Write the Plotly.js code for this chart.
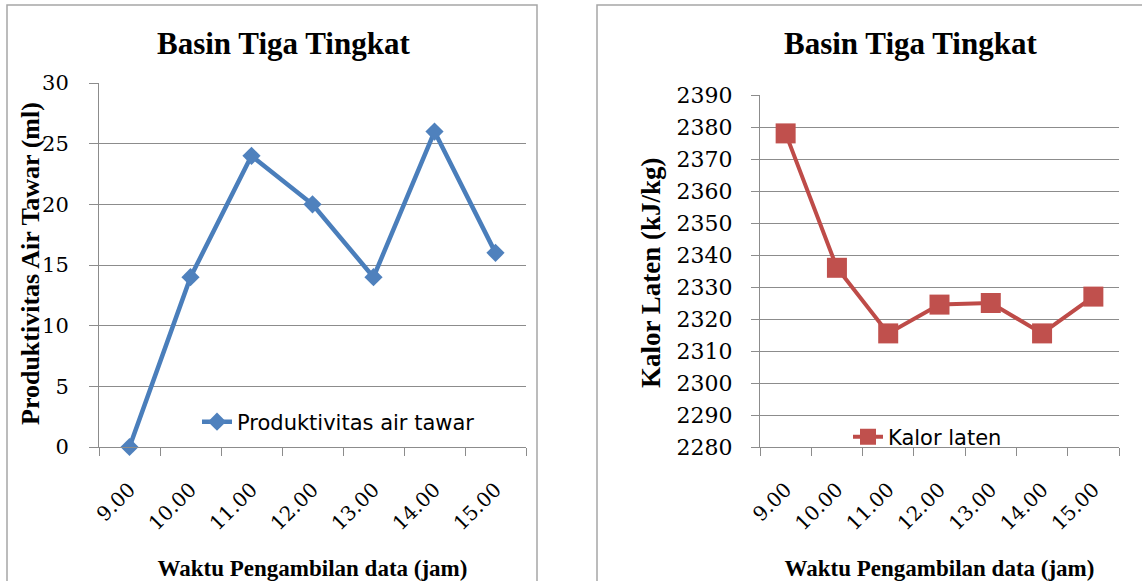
<!DOCTYPE html>
<html>
<head>
<meta charset="utf-8">
<script src="https://cdn.plot.ly/plotly-3.0.1.min.js"></script>
<style>html,body{margin:0;padding:0;background:#fff;}#chart{width:1142px;height:581px;}</style>
</head>
<body>
<div id="chart"></div>
<script>
const waktu = ['9.00', '10.00', '11.00', '12.00', '13.00', '14.00', '15.00'];
const produktivitas = [0, 14, 24, 20, 14, 26, 16];
const kalorLaten = [2378, 2336, 2315.5, 2324.5, 2325, 2315.5, 2327];
const chartTitle = 'Basin Tiga Tingkat';
const xTitle = 'Waktu Pengambilan data (jam)';
const yTitleLeft = 'Produktivitas Air Tawar (ml)';
const yTitleRight = 'Kalor Laten (kJ/kg)';
const nameLeft = 'Produktivitas air tawar';
const nameRight = 'Kalor laten';

const W = 1142, H = 581;
const px = v => v / W;
const py = v => (H - v) / H;

const serif = 'Liberation Serif, Times New Roman, serif';
const tickSerif = 'DejaVu Serif, serif';
const grey = '#8c8c8c';

const traces = [
  {
    x: waktu, y: produktivitas, name: nameLeft, type: 'scatter', mode: 'lines+markers',
    xaxis: 'x', yaxis: 'y', legend: 'legend', cliponaxis: false,
    line: {color: '#4A7EBB', width: 4.5},
    marker: {symbol: 'diamond', size: 14, color: '#4F81BD', line: {width: 0}}
  },
  {
    x: waktu, y: kalorLaten, name: nameRight, type: 'scatter', mode: 'lines+markers',
    xaxis: 'x2', yaxis: 'y2', legend: 'legend2', cliponaxis: false,
    line: {color: '#BE4B48', width: 4},
    marker: {symbol: 'square', size: 20, color: '#C0504D', line: {width: 0}}
  }
];

const xCommon = {
  type: 'category', range: [-0.5, 6.5], tickson: 'boundaries',
  ticks: 'outside', ticklen: 8, tickcolor: grey, tickwidth: 1,
  showline: true, linecolor: grey, linewidth: 1, showgrid: false, zeroline: false,
  tickangle: -45, ticklabelstandoff: 22,
  tickfont: {family: tickSerif, size: 20, color: '#000'},
  fixedrange: true
};

const layout = {
  width: W, height: H,
  margin: {l: 0, r: 0, t: 0, b: 0},
  paper_bgcolor: '#fff', plot_bgcolor: '#fff',
  showlegend: true,
  xaxis: Object.assign({}, xCommon, {
    domain: [px(99), px(526)], anchor: 'y',
    title: {text: xTitle, font: {family: serif, size: 23, weight: 'bold', color: '#000'}, standoff: 26}
  }),
  yaxis: {
    domain: [py(447), py(83)], anchor: 'x', range: [0, 30], dtick: 5,
    ticks: 'outside', ticklen: 9, tickcolor: grey, showline: true, linecolor: grey,
    showgrid: true, gridcolor: grey, gridwidth: 1, zeroline: false,
    ticklabelstandoff: 16,
    tickfont: {family: tickSerif, size: 21, color: '#000'},
    fixedrange: true
  },
  xaxis2: Object.assign({}, xCommon, {
    domain: [px(760), px(1119)], anchor: 'y2',
    title: {text: xTitle, font: {family: serif, size: 23, weight: 'bold', color: '#000'}, standoff: 26}
  }),
  yaxis2: {
    domain: [py(447), py(95)], anchor: 'x2', range: [2280, 2390], dtick: 10,
    ticks: 'outside', ticklen: 8, tickcolor: grey, showline: true, linecolor: grey,
    showgrid: true, gridcolor: grey, gridwidth: 1, zeroline: false,
    ticklabelstandoff: 14,
    tickfont: {family: tickSerif, size: 22, color: '#000'},
    fixedrange: true
  },
  legend: {
    x: px(197), y: py(422), xanchor: 'left', yanchor: 'middle',
    bgcolor: 'rgba(0,0,0,0)', borderwidth: 0,
    font: {family: 'DejaVu Sans, sans-serif', size: 21, color: '#000'}
  },
  legend2: {
    x: px(848), y: py(437), xanchor: 'left', yanchor: 'middle',
    bgcolor: 'rgba(0,0,0,0)', borderwidth: 0,
    font: {family: 'DejaVu Sans, sans-serif', size: 21, color: '#000'}
  },
  annotations: [
    {text: chartTitle, xref: 'paper', yref: 'paper', x: px(283), y: py(44), xanchor: 'center', yanchor: 'middle',
     showarrow: false, font: {family: serif, size: 31, weight: 'bold', color: '#000'}},
    {text: chartTitle, xref: 'paper', yref: 'paper', x: px(910), y: py(44), xanchor: 'center', yanchor: 'middle',
     showarrow: false, font: {family: serif, size: 31, weight: 'bold', color: '#000'}},
    {text: yTitleLeft, xref: 'paper', yref: 'paper', x: px(30), y: py(264), xanchor: 'center', yanchor: 'middle',
     textangle: -90, showarrow: false, font: {family: serif, size: 26, weight: 'bold', color: '#000'}},
    {text: yTitleRight, xref: 'paper', yref: 'paper', x: px(651), y: py(272), xanchor: 'center', yanchor: 'middle',
     textangle: -90, showarrow: false, font: {family: serif, size: 27, weight: 'bold', color: '#000'}}
  ],
  shapes: [
    {type: 'rect', xref: 'paper', yref: 'paper', x0: px(7), x1: px(537), y0: -0.05, y1: py(5),
     line: {color: '#a6a6a6', width: 1.5}, fillcolor: 'rgba(0,0,0,0)', layer: 'below'},
    {type: 'rect', xref: 'paper', yref: 'paper', x0: px(597), x1: 1.05, y0: -0.05, y1: py(5),
     line: {color: '#a6a6a6', width: 1.5}, fillcolor: 'rgba(0,0,0,0)', layer: 'below'}
  ]
};

Plotly.newPlot('chart', traces, layout, {staticPlot: true, displayModeBar: false});
</script>
</body>
</html>
